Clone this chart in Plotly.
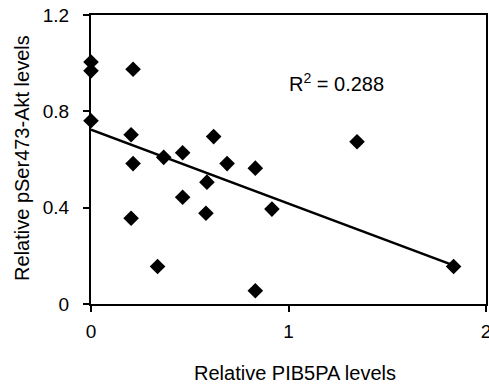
import numpy as np
import plotly.graph_objects as go

# Data
pib5pa = [0.0, 0.0, 0.0, 0.213, 0.203, 0.213, 0.203, 0.368, 0.337, 0.464,
          0.464, 0.621, 0.689, 0.587, 0.582, 0.832, 0.916, 0.832, 1.347, 1.836]
pser473_akt = [1.005, 0.968, 0.761, 0.975, 0.703, 0.583, 0.356, 0.609, 0.156, 0.628,
               0.443, 0.695, 0.583, 0.506, 0.377, 0.564, 0.394, 0.055, 0.674, 0.156]
x_ticks = [0, 1, 2]
y_ticks = [0, 0.4, 0.8, 1.2]
y_tick_labels = ["0", "0.4", "0.8", "1.2"]
x_title = "Relative PIB5PA levels"
y_title = "Relative pSer473-Akt levels"
r2_label = "R<sup>2</sup> = 0.288"

slope, intercept = np.polyfit(pib5pa, pser473_akt, 1)
fit_x = [0.0, max(pib5pa)]
fit_y = [intercept + slope * v for v in fit_x]

fig = go.Figure()
fig.add_trace(go.Scatter(x=pib5pa, y=pser473_akt, mode="markers",
                         marker=dict(symbol="diamond", size=12, color="black"),
                         cliponaxis=False, showlegend=False))
fig.add_trace(go.Scatter(x=fit_x, y=fit_y, mode="lines",
                         line=dict(color="black", width=2.5),
                         cliponaxis=False, showlegend=False))

font_family = "Liberation Sans, Arial, sans-serif"
fig.update_layout(
    width=489, height=387,
    margin=dict(l=91, r=3, t=15, b=83),
    paper_bgcolor="white", plot_bgcolor="white",
    font=dict(family=font_family, color="black"),
    xaxis=dict(range=[0, 2], tickvals=x_ticks, ticks="outside", ticklen=6, tickwidth=2,
               tickcolor="black", showline=True, linecolor="black", linewidth=2,
               mirror=True, showgrid=False, zeroline=False, automargin=False,
               ticklabeloverflow="allow",
               tickfont=dict(size=19), ticklabelstandoff=3),
    yaxis=dict(range=[0, 1.2], tickvals=y_ticks, ticktext=y_tick_labels, ticks="outside",
               ticklen=6, tickwidth=2, tickcolor="black", showline=True, linecolor="black",
               linewidth=2, mirror=True, showgrid=False, zeroline=False, automargin=False,
               tickfont=dict(size=19), ticklabelstandoff=10),
    annotations=[
        dict(x=0.99, y=0.921, xref="x", yref="y", text=r2_label, showarrow=False,
             xanchor="left", yanchor="middle", font=dict(size=20)),
        dict(x=0.516, y=-0.239, xref="paper", yref="paper", text=x_title, showarrow=False,
             xanchor="center", yanchor="middle", font=dict(size=20)),
        dict(x=-0.175, y=0.505, xref="paper", yref="paper", text=y_title, showarrow=False,
             xanchor="center", yanchor="middle", textangle=-90, font=dict(size=20)),
    ],
)
fig.write_html("out.html", config={"displayModeBar": False},
               post_script="document.body.style.margin='0';document.body.style.padding='0';")
